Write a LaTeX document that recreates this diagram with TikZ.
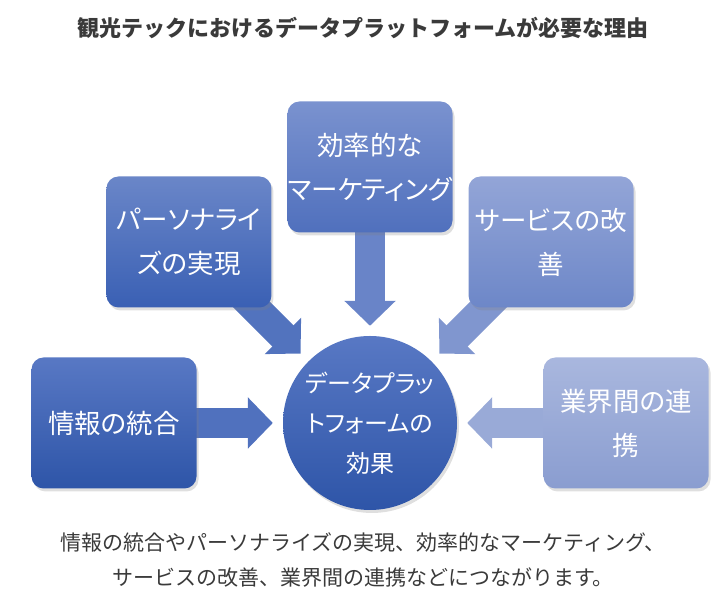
\documentclass[tikz,border=0pt]{standalone}
\usepackage{fontspec}
\setmainfont{Noto Sans CJK JP}[RawFeature=+palt]
\newfontfamily\plainjp{Noto Sans CJK JP}
\usepackage{tikz}
\usetikzlibrary{arrows.meta,shadows,backgrounds}

\definecolor{textgray}{HTML}{3A3A3A}
\definecolor{infotop}{HTML}{5878C4}
\definecolor{infobot}{HTML}{2E55A8}
\definecolor{perstop}{HTML}{6A86C8}
\definecolor{persbot}{HTML}{3A60B4}
\definecolor{efftop}{HTML}{7A92CF}
\definecolor{effbot}{HTML}{5070BD}
\definecolor{servtop}{HTML}{93A5D7}
\definecolor{servbot}{HTML}{6D87C8}
\definecolor{linktop}{HTML}{A9B7DE}
\definecolor{linkbot}{HTML}{8A9DD0}

\tikzset{
  card/.style={rectangle, rounded corners=12pt, minimum width=165pt,
    minimum height=131pt, inner sep=0pt, align=center, text=white,
    font=\fontsize{26.5}{44}\selectfont,
    drop shadow={shadow xshift=2pt, shadow yshift=-3pt, opacity=0.25}},
  hubnode/.style={circle, minimum size=174pt, inner sep=0pt, align=center,
    text=white, top color=infotop, bottom color=infobot,
    font=\fontsize{24}{40}\selectfont,
    drop shadow={shadow xshift=2pt, shadow yshift=-3pt, opacity=0.25}},
  flow/.style={line width=30pt, -{Triangle[length=25pt,width=50pt]},
    shorten >=10pt},
}

\begin{document}
\begin{tikzpicture}

  \useasboundingbox (0pt,0pt) rectangle (726pt,604pt);

  \newcommand\D{256pt};

  \node[hubnode] (hub) at (370pt,181pt) {データプラッ\\トフォームの\\効果};

  \path (hub) ++(180:\D) node[card, top color=infotop, bottom color=infobot] (info) {情報の統合};
  \path (hub) ++(135:\D) node[card, top color=perstop, bottom color=persbot] (pers) {パーソナライ\\ズの実現};
  \path (hub) ++(90:\D)  node[card, top color=efftop, bottom color=effbot] (eff) {効率的な\\マーケティング};
  \path (hub) ++(45:\D)  node[card, top color=servtop, bottom color=servbot] (serv) {サービスの改\\善};
  \path (hub) ++(0:\D)   node[card, top color=linktop, bottom color=linkbot] (link) {業界間の連\\携};

  \begin{scope}[on background layer]
    \draw[flow, color=infotop!80!infobot] (info.center) -- (hub);
    \draw[flow, color=perstop!50!persbot, shorten >=11pt] (pers.center) -- (hub);
    \draw[flow, color=efftop!60!effbot] (eff.center) -- (hub);
    \draw[flow, color=servtop!50!servbot, shorten >=11pt] (serv.center) -- (hub);
    \draw[flow, color=linktop!50!linkbot] (link.center) -- (hub);
  \end{scope}

  \node[text=textgray, font=\plainjp\fontsize{22}{26}\selectfont\bfseries] (title) at (363pt,576pt)
    {観光テックにおけるデータプラットフォームが必要な理由};

  \node[text=textgray, align=center, font=\plainjp\fontsize{21}{35}\selectfont] (summary) at (363pt,44.5pt)
    {情報の統合やパーソナライズの実現、効率的なマーケティング、\\サービスの改善、業界間の連携などにつながります。};

\end{tikzpicture}
\end{document}
